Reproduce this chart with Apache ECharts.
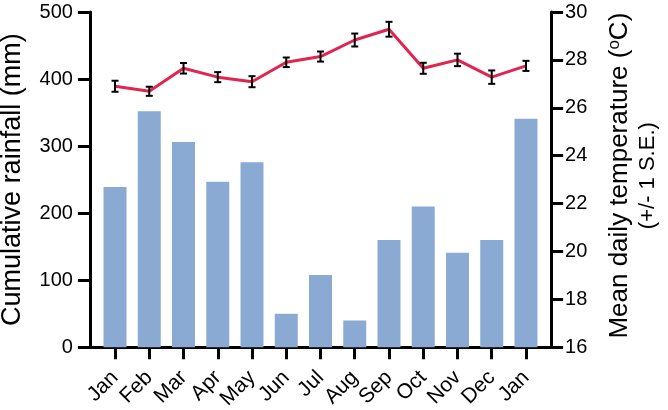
<!DOCTYPE html>
<html>
<head>
<meta charset="utf-8">
<script src="https://cdn.jsdelivr.net/npm/echarts@6/dist/echarts.min.js"></script>
<style>
  html, body { margin: 0; padding: 0; background: #fff; }
  #chart { width: 668px; height: 410px; }
</style>
</head>
<body>
<div id="chart"></div>
<script>
// months along the bottom (Jan twice: the series runs a full year + 1)
const months = ['Jan', 'Feb', 'Mar', 'Apr', 'May', 'Jun', 'Jul', 'Aug', 'Sep', 'Oct', 'Nov', 'Dec', 'Jan'];
// cumulative rainfall (mm)
const rainfall = [239, 352, 306, 247, 276, 50, 108, 40, 160, 210, 141, 160, 341];
// mean daily temperature (C) and its standard error
const tempMean = [26.9, 26.69, 27.65, 27.28, 27.09, 27.9, 28.14, 28.83, 29.28, 27.65, 28.0, 27.28, 27.75];
const tempSE = [0.23, 0.19, 0.22, 0.21, 0.23, 0.2, 0.21, 0.27, 0.31, 0.23, 0.26, 0.28, 0.21];

const FONT = 'Liberation Sans, Arial, Helvetica, sans-serif';
const AXIS_W = 3;

const chartDom = document.getElementById('chart');
const chartInstance = echarts.init(chartDom, null, { renderer: 'canvas' });

const axisCommon = {
  axisLine: { show: true, lineStyle: { color: '#000', width: AXIS_W } },
  axisTick: { show: true, length: 12, lineStyle: { color: '#000', width: AXIS_W } },
  splitLine: { show: false },
  axisLabel: { color: '#000', fontSize: 20, fontFamily: FONT }
};

const option = {
  animation: false,
  backgroundColor: '#fff',
  grid: [
    // the plotting grid, narrowed so the category bands sit inset from the axes
    { left: 97.9, right: 124.9, top: 12, bottom: 62.7, outerBoundsMode: 'none', containLabel: false },
    // wider grid, only used to draw the full-length bottom axis line
    { left: 90, right: 117, top: 12, bottom: 62.7, outerBoundsMode: 'none', containLabel: false }
  ],
  xAxis: [
    {
      type: 'category',
      gridIndex: 0,
      data: months,
      axisLine: { show: false },
      axisTick: { show: true, alignWithLabel: true, length: 12, lineStyle: { color: '#000', width: AXIS_W } },
      axisLabel: { color: '#000', fontSize: 21, fontFamily: FONT, rotate: 45, margin: 27, interval: 0 }
    },
    {
      type: 'value',
      gridIndex: 1,
      min: 0,
      max: 1,
      axisLine: { show: true, lineStyle: { color: '#000', width: AXIS_W } },
      axisTick: { show: false },
      axisLabel: { show: false },
      splitLine: { show: false }
    }
  ],
  yAxis: [
    Object.assign({}, axisCommon, {
      type: 'value',
      gridIndex: 0,
      position: 'left',
      offset: 8,
      min: 0,
      max: 500,
      interval: 100,
      axisLabel: Object.assign({}, axisCommon.axisLabel, { margin: 17 }),
      name: 'Cumulative rainfall (mm)',
      nameLocation: 'middle',
      nameGap: 64,
      nameRotate: 90,
      nameTextStyle: { color: '#000', fontSize: 27, fontFamily: FONT }
    }),
    Object.assign({}, axisCommon, {
      type: 'value',
      gridIndex: 0,
      position: 'right',
      offset: 8,
      min: 16,
      max: 30,
      interval: 2,
      axisLabel: Object.assign({}, axisCommon.axisLabel, { margin: 14 }),
      name: 'Mean daily temperature ({sup|o}C)\n{small|(+/- 1 S.E.)}',
      nameLocation: 'middle',
      nameGap: 55,
      nameRotate: 90,
      nameTextStyle: {
        color: '#000', fontSize: 26, fontFamily: FONT, lineHeight: 28, padding: [0, 0, 0, 8],
        rich: {
          sup: { fontSize: 17, fontFamily: FONT, color: '#000', verticalAlign: 'top', lineHeight: 26 },
          small: { fontSize: 22, fontFamily: FONT, color: '#000', lineHeight: 28 }
        }
      }
    }),
    {
      type: 'value',
      gridIndex: 1,
      show: false
    }
  ],
  series: [
    {
      name: 'Rainfall',
      type: 'bar',
      xAxisIndex: 0,
      yAxisIndex: 0,
      data: rainfall,
      barWidth: 23,
      itemStyle: { color: '#8aaad4' }
    },
    {
      name: 'Temperature',
      type: 'line',
      xAxisIndex: 0,
      yAxisIndex: 1,
      data: tempMean,
      symbol: 'none',
      lineStyle: { color: '#e0264f', width: 3 },
      z: 3
    },
    {
      name: 'SE',
      type: 'custom',
      xAxisIndex: 0,
      yAxisIndex: 1,
      z: 4,
      data: tempMean.map((m, i) => [i, m - tempSE[i], m + tempSE[i]]),
      renderItem: function (params, api) {
        const lo = api.coord([api.value(0), api.value(1)]);
        const hi = api.coord([api.value(0), api.value(2)]);
        const half = 3.5;
        const style = { stroke: '#000', lineWidth: 2, fill: null };
        return {
          type: 'group',
          children: [
            { type: 'line', shape: { x1: lo[0], y1: lo[1], x2: hi[0], y2: hi[1] }, style: style },
            { type: 'line', shape: { x1: lo[0] - half, y1: lo[1], x2: lo[0] + half, y2: lo[1] }, style: style },
            { type: 'line', shape: { x1: hi[0] - half, y1: hi[1], x2: hi[0] + half, y2: hi[1] }, style: style }
          ]
        };
      }
    }
  ]
};

chartInstance.setOption(option);
</script>
</body>
</html>
